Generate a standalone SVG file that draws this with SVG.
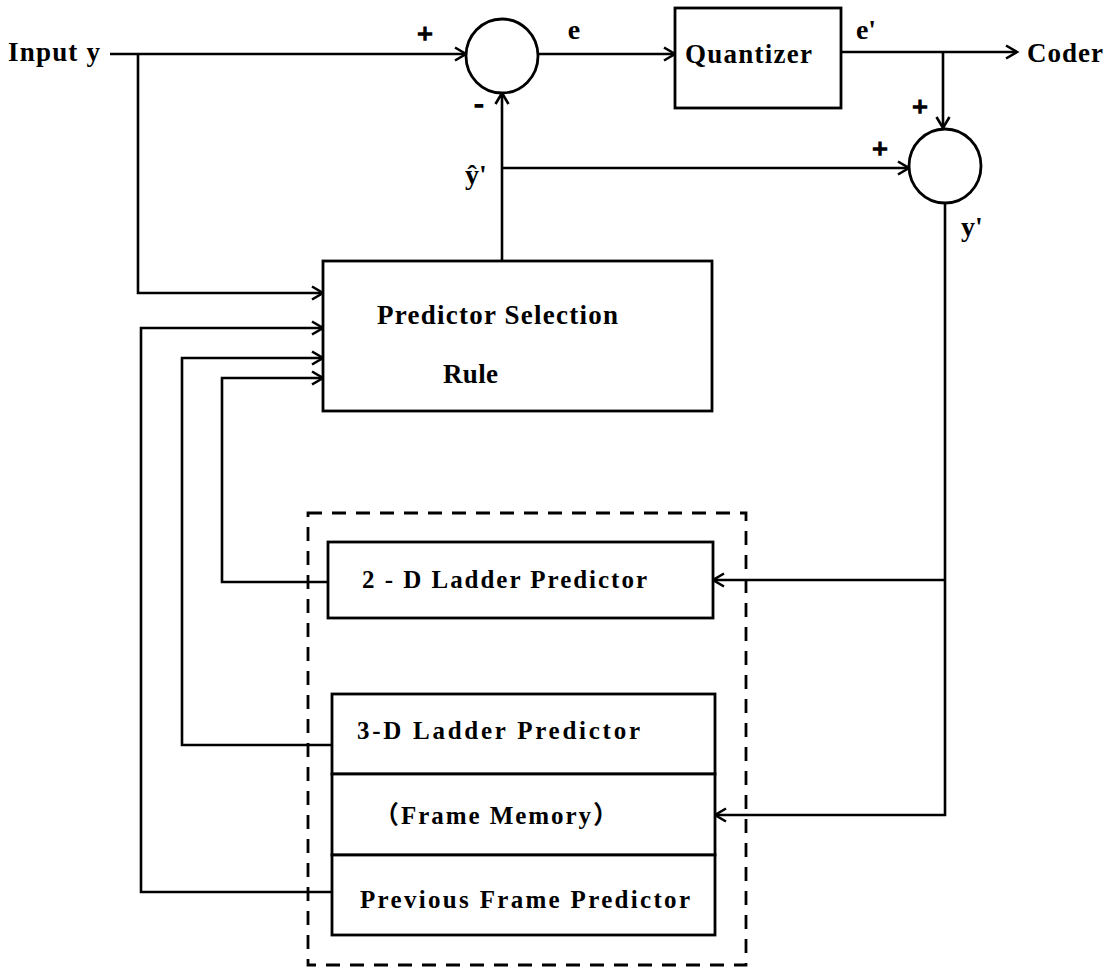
<svg xmlns="http://www.w3.org/2000/svg" width="1116" height="970" viewBox="0 0 1116 970">
<defs>
<style>
.ln{fill:none;stroke:#000;stroke-width:2.6;stroke-linejoin:miter}
.bx{fill:#fff;stroke:#000;stroke-width:2.8}
.dash{fill:none;stroke:#000;stroke-width:2.8;stroke-dasharray:14 10}
.t{font-family:"Liberation Serif","Noto Sans CJK SC",serif;font-weight:bold;font-size:27px;fill:#000}
.s{font-family:"Liberation Serif","Noto Sans CJK SC",serif;font-weight:bold;font-size:25px;fill:#000}
.l{font-family:"Liberation Serif",serif;font-weight:bold;font-size:28px;fill:#000}
.p{font-family:"Liberation Serif",serif;font-weight:bold;font-size:28px;fill:#000;stroke:#000;stroke-width:1.4}
</style>
<marker id="arr" viewBox="0 0 16 16" refX="13" refY="8" markerWidth="16" markerHeight="16" markerUnits="userSpaceOnUse" orient="auto">
<path d="M2,1.5 L13,8 L2,14.5" fill="none" stroke="#000" stroke-width="2.6"/>
</marker>
</defs>
<rect width="1116" height="970" fill="#fff"/>

<g id="connectors">
<path class="ln" d="M110,54 H466" marker-end="url(#arr)"/>
<path class="ln" d="M138,54 V293 H323" marker-end="url(#arr)"/>
<path class="ln" d="M538,54 H675" marker-end="url(#arr)"/>
<path class="ln" d="M841,52 H1017" marker-end="url(#arr)"/>
<path class="ln" d="M943,52 V128" marker-end="url(#arr)"/>
<path class="ln" d="M502,261 V93" marker-end="url(#arr)"/>
<path class="ln" d="M502,168 H909" marker-end="url(#arr)"/>
<path class="ln" d="M945,203 V815 H715" marker-end="url(#arr)"/>
<path class="ln" d="M945,580 H713" marker-end="url(#arr)"/>
<path class="ln" d="M332,892 H141 V328 H323" marker-end="url(#arr)"/>
<path class="ln" d="M332,745 H182 V358 H323" marker-end="url(#arr)"/>
<path class="ln" d="M328,582 H222 V378 H323" marker-end="url(#arr)"/>
</g>

<g id="input">
<text class="t" x="8" y="61" textLength="92" lengthAdjust="spacing">Input y</text>
</g>

<g id="sum1">
<ellipse class="bx" cx="502" cy="56" rx="36" ry="37"/>
<text class="p" x="425" y="43" text-anchor="middle">+</text>
<text class="p" x="479" y="112" text-anchor="middle">-</text>
<text class="l" x="574" y="39" text-anchor="middle">e</text>
<text class="l" x="476" y="184" text-anchor="middle">ŷ'</text>
</g>

<g id="quantizer">
<rect class="bx" x="675" y="8" width="166" height="100"/>
<text class="t" x="685" y="63" textLength="127" lengthAdjust="spacing">Quantizer</text>
<text class="l" x="866" y="39" text-anchor="middle">e'</text>
</g>

<g id="coder">
<text class="t" x="1027" y="62" textLength="76" lengthAdjust="spacing">Coder</text>
</g>

<g id="sum2">
<ellipse class="bx" cx="945" cy="166" rx="36" ry="37"/>
<text class="p" x="920" y="116" text-anchor="middle">+</text>
<text class="p" x="880" y="158" text-anchor="middle">+</text>
<text class="l" x="972" y="236" text-anchor="middle">y'</text>
</g>

<g id="selection">
<rect class="bx" x="323" y="261" width="389" height="150"/>
<text class="t" x="377" y="324" textLength="241" lengthAdjust="spacing">Predictor Selection</text>
<text class="t" x="443" y="383" textLength="55" lengthAdjust="spacing">Rule</text>
</g>

<g id="predictor-group">
<rect class="dash" x="308" y="513" width="438" height="452"/>
</g>

<g id="ladder2d">
<rect class="bx" x="328" y="542" width="385" height="76"/>
<text class="s" x="362" y="588" textLength="285" lengthAdjust="spacing">2 - D Ladder Predictor</text>
</g>

<g id="ladder3d">
<rect class="bx" x="332" y="694" width="383" height="80"/>
<text class="s" x="357" y="739" textLength="283" lengthAdjust="spacing">3-D Ladder Predictor</text>
</g>

<g id="frame-memory">
<rect class="bx" x="332" y="774" width="383" height="81"/>
<text class="s" x="374" y="824" textLength="244" lengthAdjust="spacing">（Frame Memory）</text>
</g>

<g id="previous-frame">
<rect class="bx" x="332" y="855" width="383" height="80"/>
<text class="s" x="360" y="908" textLength="330" lengthAdjust="spacing">Previous Frame Predictor</text>
</g>
</svg>
